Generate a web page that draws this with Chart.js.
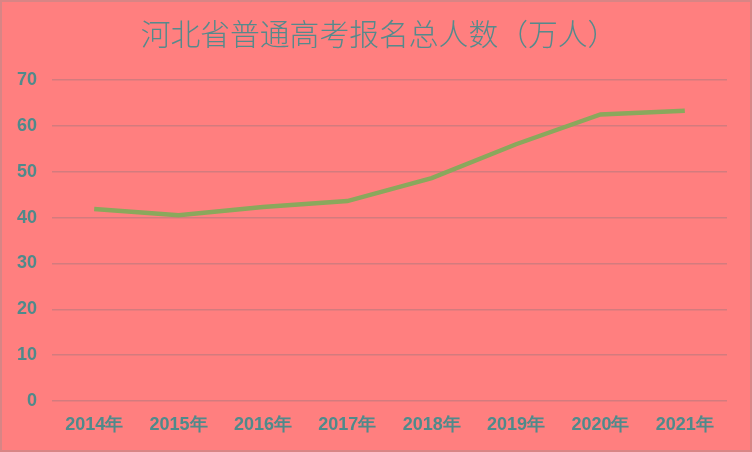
<!DOCTYPE html>
<html>
<head>
<meta charset="utf-8">
<script src="https://cdn.jsdelivr.net/npm/chart.js@4.4.0/dist/chart.umd.min.js"></script>
<style>
  html, body { margin: 0; padding: 0; background: #FF7F7F; }
  .wrap {
    width: 752px; height: 452px; box-sizing: border-box;
    border: 2px solid #D88585; background: #FF7F7F; position: relative;
  }
  canvas { display: block; }
</style>
</head>
<body>
<div class="wrap"><canvas id="lineChart" width="748" height="448"></canvas></div>
<script>
// 河北省普通高考报名总人数（万人）
var years = ['2014年', '2015年', '2016年', '2017年', '2018年', '2019年', '2020年', '2021年'];
var applicants = [41.9, 40.5, 42.3, 43.6, 48.6, 56.0, 62.5, 63.3];
var yTicks = [0, 10, 20, 30, 40, 50, 60, 70];

var textColor = '#4F8A8B';

// nudge the title a little to the right, as in the original
var titleShift = {
    id: 'titleShift',
    afterLayout: function (chart) {
        if (chart.titleBlock) { chart.titleBlock.left += 14; }
    }
};

var ctx = document.getElementById('lineChart').getContext('2d');
var myChart = new Chart(ctx, {
    type: 'line',
    data: {
        labels: years,
        datasets: [{
            label: '报名人数',
            data: applicants,
            borderColor: '#8AA85C',
            borderWidth: 4.5,
            pointRadius: 0,
            tension: 0,
            fill: false
        }]
    },
    options: {
        responsive: false,
        animation: false,
        layout: {
            padding: { left: 15, right: 23, top: 0, bottom: 0 }
        },
        plugins: {
            legend: { display: false },
            tooltip: { enabled: false },
            title: {
                display: true,
                text: '河北省普通高考报名总人数（万人）',
                color: '#558A8C',
                font: { family: '"Noto Sans CJK SC", sans-serif', size: 29.8, weight: 300 },
                padding: { top: 14, bottom: 28.3 }
            }
        },
        scales: {
            x: {
                offset: true,
                grid: { display: false, drawTicks: false },
                border: { display: false },
                ticks: {
                    color: textColor,
                    padding: 13,
                    maxRotation: 0,
                    font: { family: '"Liberation Sans", Arial, sans-serif', size: 18, weight: 'bold' }
                },
                afterFit: function (scale) { scale.height = 49; }
            },
            y: {
                min: 0,
                max: 70,
                afterBuildTicks: function (scale) {
                    scale.ticks = yTicks.map(function (v) { return { value: v }; });
                },
                grid: { color: 'rgba(175, 120, 125, 0.55)', lineWidth: 1.4, drawTicks: false },
                border: { display: false },
                ticks: {
                    color: textColor,
                    padding: 15,
                    font: { family: '"Liberation Sans", Arial, sans-serif', size: 18, weight: 'bold' }
                },
                afterFit: function (scale) { scale.width = 35; }
            }
        }
    },
    plugins: [titleShift]
});
</script>
</body>
</html>
